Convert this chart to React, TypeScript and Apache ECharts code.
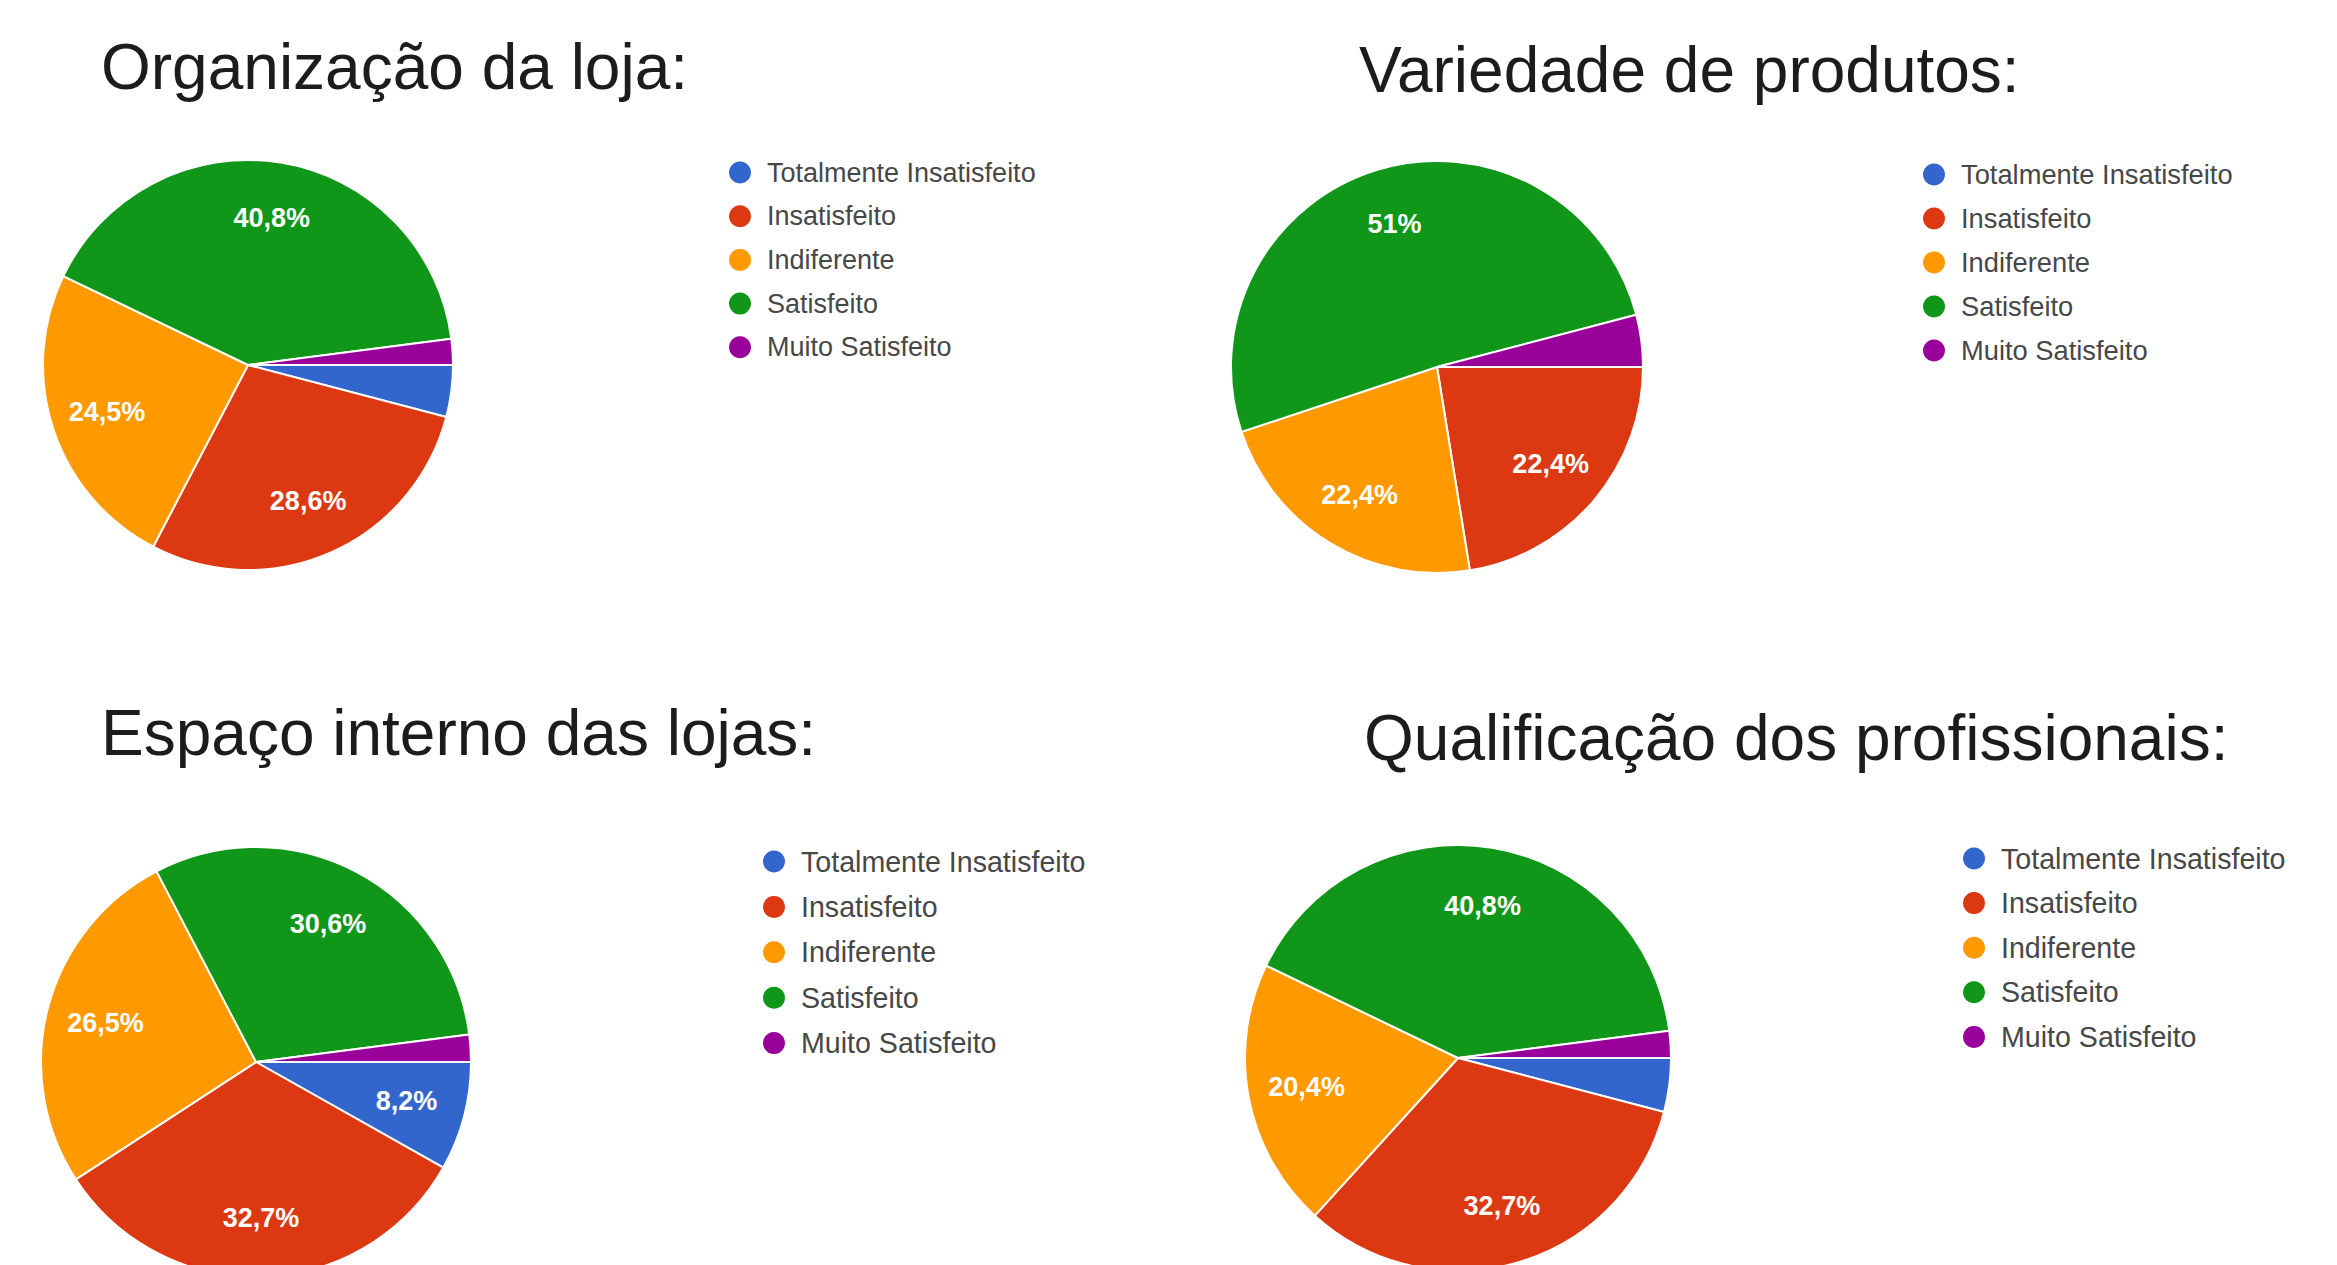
import React, { useEffect, useRef } from "react";
import * as echarts from "echarts";

// ---- data ----
const categories = [
  "Totalmente Insatisfeito",
  "Insatisfeito",
  "Indiferente",
  "Satisfeito",
  "Muito Satisfeito",
];
const colors = ["#3366cc", "#dc3912", "#ff9900", "#109618", "#990099"];
const titles = [
  "Organização da loja:",
  "Variedade de produtos:",
  "Espaço interno das lojas:",
  "Qualificação dos profissionais:",
];
// respondent counts (49 respondents)
const organizacaoLoja = [2, 14, 12, 20, 1];
const variedadeProdutos = [0, 11, 11, 25, 2];
const espacoInterno = [4, 16, 13, 15, 1];
const qualificacaoProfissionais = [2, 16, 10, 20, 1];
const seriesValues = [organizacaoLoja, variedadeProdutos, espacoInterno, qualificacaoProfissionais];

// ---- layout (pixels) ----
const layouts = [
  { tx: 101, ty: 35, cx: 248, cy: 365, r: 205, lx: 729, ly: 159, lh: 27, gap: 16.7, fs: 27 },
  { tx: 1359, ty: 38, cx: 1437, cy: 367, r: 206, lx: 1923, ly: 161, lh: 27, gap: 17, fs: 27.3 },
  { tx: 101, ty: 701, cx: 256, cy: 1062, r: 215, lx: 763, ly: 847, lh: 28, gap: 16.4, fs: 28.6 },
  { tx: 1364, ty: 706, cx: 1458, cy: 1058, r: 213, lx: 1963, ly: 844, lh: 28, gap: 15.6, fs: 28.6 },
];

const FONT = "'Liberation Sans', Arial, sans-serif";

function fmtPct(v: number, total: number): string {
  const p = (v / total) * 100;
  if (p < 5) return "";
  const rounded = Math.round(p * 10) / 10;
  return String(rounded).replace(".", ",") + "%";
}

export default function App() {
  const ref = useRef<HTMLDivElement>(null);
  useEffect(() => {
    if (!ref.current) return;
    const chart = echarts.init(ref.current, undefined, { renderer: "svg" });
    const title: any[] = [];
    const legend: any[] = [];
    const series: any[] = [];
    seriesValues.forEach((vals, i) => {
      const L = layouts[i];
      const total = vals.reduce((a, b) => a + b, 0);
      title.push({
        text: titles[i],
        left: L.tx,
        top: L.ty,
        padding: 0,
        textStyle: { fontSize: 64, fontWeight: "normal", color: "#1c1c1c", fontFamily: FONT },
      });
      legend.push({
        data: categories,
        orient: "vertical",
        left: L.lx,
        top: L.ly,
        padding: 0,
        icon: "circle",
        itemWidth: 44,
        itemHeight: 22,
        itemGap: L.gap,
        selectedMode: false,
        itemStyle: { borderWidth: 0 },
        textStyle: { fontSize: L.fs, color: "#474747", fontFamily: FONT, lineHeight: L.lh },
      });
      const data = vals.map((v, j) => ({
        name: categories[j],
        value: v,
        itemStyle: { color: colors[j] },
      }));
      series.push({
        type: "pie",
        center: [L.cx, L.cy],
        radius: [0, L.r],
        startAngle: 0,
        clockwise: true,
        label: { show: false },
        labelLine: { show: false },
        itemStyle: { borderColor: "#ffffff", borderWidth: 2 },
        emphasis: { disabled: true },
        data,
      });
      series.push({
        type: "pie",
        center: [L.cx, L.cy],
        radius: [L.r * 0.42, L.r],
        startAngle: 0,
        clockwise: true,
        silent: true,
        avoidLabelOverlap: false,
        labelLine: { show: false },
        itemStyle: { color: "rgba(0,0,0,0)", borderWidth: 0 },
        emphasis: { disabled: true },
        label: {
          show: true,
          position: "inside",
          color: "#ffffff",
          fontSize: 27,
          fontWeight: "bold",
          fontFamily: FONT,
          formatter: (p: any) => fmtPct(p.value, total),
        },
        data: vals.map((v, j) => ({ name: categories[j], value: v })),
      });
    });
    chart.setOption({
      animation: false,
      backgroundColor: "#ffffff",
      color: colors,
      title,
      legend,
      series,
    });
    return () => chart.dispose();
  }, []);
  return (
    <div
      ref={ref}
      style={{ position: "fixed", left: 0, top: 0, width: 2337, height: 1265, background: "#fff" }}
    />
  );
}
